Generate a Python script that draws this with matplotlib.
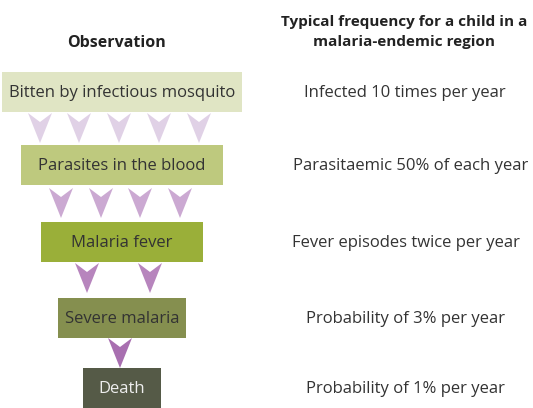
import matplotlib
matplotlib.use('Agg')
import matplotlib.pyplot as plt
from matplotlib.patches import Rectangle, Polygon

plt.rcParams['font.family'] = ['Open Sans', 'DejaVu Sans']

# data
stages = ['Bitten by infectious mosquito', 'Parasites in the blood', 'Malaria fever',
          'Severe malaria', 'Death']
frequency = ['Infected 10 times per year', 'Parasitaemic 50% of each year',
             'Fever episodes twice per year', 'Probability of 3% per year',
             'Probability of 1% per year']
arrow_counts = [5, 4, 2, 1]
left_header = 'Observation'
right_header = 'Typical frequency for a child in a\nmalaria-endemic region'

# layout (pixels)
box_cx = 122
box_w = [240, 202, 162, 128, 78]
box_top = [72, 145, 222, 298, 368]
box_h = 40
arrow_cx = [[40, 79, 119, 159, 199], [61, 101, 140, 180], [87, 150], [120]]
arrow_top = [113, 188, 263, 338]
arrow_h, arrow_w, notch = 30, 24, 9
right_cx = [405, 411, 406, 405, 405]

box_colors = ['#e0e5c4', '#bec97e', '#9aaf39', '#858f4f', '#555a47']
text_colors = ['#333333', '#333333', '#333333', '#333333', '#eeeeee']
arrow_colors = ['#e0d1e6', '#cba9d2', '#b785bd', '#a86fb0']

fig = plt.figure(figsize=(5.33, 4.08), dpi=100)
ax = fig.add_axes([0, 0, 1, 1])
ax.set_xlim(0, 533)
ax.set_ylim(408, 0)
ax.axis('off')

for i, label in enumerate(stages):
    x0 = box_cx - box_w[i] / 2
    ax.add_patch(Rectangle((x0, box_top[i]), box_w[i], box_h, color=box_colors[i], lw=0))
    ax.text(box_cx, box_top[i] + box_h / 2 + 1, label, ha='center', va='center',
            fontsize=12, color=text_colors[i])
    ax.text(right_cx[i], box_top[i] + box_h / 2 + 1, frequency[i], ha='center', va='center',
            fontsize=12, color='#333333')

for r, n in enumerate(arrow_counts):
    for k in range(n):
        cx = arrow_cx[r][k]
        t = arrow_top[r]
        pts = [(cx - arrow_w / 2, t), (cx, t + notch), (cx + arrow_w / 2, t), (cx, t + arrow_h)]
        ax.add_patch(Polygon(pts, closed=True, color=arrow_colors[r], lw=0))

ax.text(116, 43, left_header, ha='center', va='center', fontsize=11.5,
        fontweight='bold', color='#222222')
ax.text(404, 32, right_header, ha='center', va='center', fontsize=11,
        fontweight='bold', color='#222222', linespacing=1.5)

fig.savefig('out.png', dpi=100)
